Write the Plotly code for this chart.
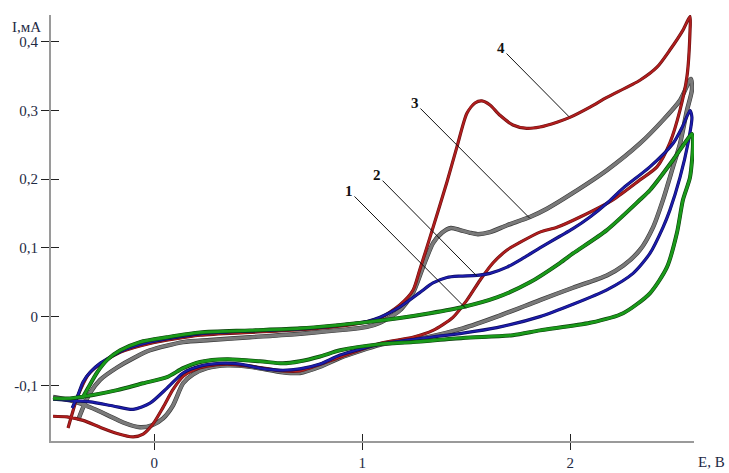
import plotly.graph_objects as go

# Curve 1 (green)
c1_E = [-0.347, -0.319, -0.275, -0.227, -0.164, -0.069, 0.061, 0.22, 0.46, 0.70, 1.022, 1.18, 1.326, 1.484, 1.647, 1.806, 1.950, 2.013, 2.176, 2.335, 2.383, 2.494, 2.561, 2.585,
        2.590, 2.576, 2.542, 2.513, 2.465, 2.383, 2.254, 2.095, 1.854, 1.724, 1.484, 1.243, 1.085, 0.893, 0.797, 0.70, 0.618, 0.508, 0.35, 0.22, 0.138, 0.061, -0.054, -0.179, -0.294, -0.405, -0.487]
c1_I = [-0.119, -0.104, -0.081, -0.063, -0.049, -0.037, -0.030, -0.023, -0.020, -0.017, -0.008, -0.002, 0.005, 0.014, 0.028, 0.050, 0.078, 0.092, 0.126, 0.170, 0.184, 0.228, 0.257, 0.266,
        0.252, 0.203, 0.170, 0.122, 0.072, 0.034, 0.005, -0.009, -0.020, -0.027, -0.031, -0.037, -0.040, -0.049, -0.058, -0.065, -0.068, -0.065, -0.062, -0.066, -0.075, -0.088, -0.097, -0.107, -0.114, -0.119, -0.119]

# Curve 2 (blue)
c2_E = [-0.395, -0.367, -0.343, -0.309, -0.261, -0.150, -0.021, 0.22, 0.46, 0.70, 1.022, 1.085, 1.18, 1.276, 1.340, 1.407, 1.470, 1.551, 1.614, 1.696, 1.773, 1.854, 1.950, 2.013, 2.095, 2.176, 2.254, 2.383, 2.494, 2.542, 2.576,
        2.585, 2.566, 2.528, 2.479, 2.446, 2.383, 2.302, 2.176, 2.013, 1.854, 1.647, 1.484, 1.326, 1.085, 0.893, 0.797, 0.70, 0.618, 0.508, 0.412, 0.316, 0.22, 0.138, 0.061, -0.021, -0.102, -0.198, -0.309, -0.405, -0.487]
c2_I = [-0.133, -0.114, -0.095, -0.081, -0.068, -0.049, -0.037, -0.025, -0.021, -0.018, -0.007, -0.001, 0.014, 0.035, 0.049, 0.057, 0.059, 0.060, 0.063, 0.072, 0.085, 0.100, 0.117, 0.128, 0.145, 0.165, 0.187, 0.218, 0.252, 0.278, 0.300,
        0.290, 0.252, 0.203, 0.155, 0.130, 0.092, 0.063, 0.039, 0.018, 0.000, -0.016, -0.024, -0.030, -0.040, -0.056, -0.069, -0.076, -0.078, -0.075, -0.069, -0.068, -0.072, -0.082, -0.104, -0.126, -0.135, -0.130, -0.124, -0.122, -0.120]

# Curve 3 (grey)
c3_E = [-0.367, -0.348, -0.309, -0.261, -0.179, -0.092, -0.021, 0.138, 0.268, 0.46, 0.70, 1.022, 1.085, 1.18, 1.243, 1.292, 1.340, 1.383, 1.426, 1.470, 1.518, 1.556, 1.614, 1.696, 1.806, 1.888, 2.013, 2.176, 2.335, 2.446, 2.528, 2.580,
        2.585, 2.561, 2.528, 2.494, 2.446, 2.398, 2.335, 2.254, 2.176, 2.013, 1.854, 1.647, 1.484, 1.326, 1.167, 1.085, 0.893, 0.797, 0.70, 0.618, 0.46, 0.35, 0.253, 0.186, 0.138, 0.090, 0.042, -0.011, -0.069, -0.150, -0.227, -0.309, -0.391, -0.487]
c3_I = [-0.151, -0.136, -0.111, -0.092, -0.074, -0.059, -0.049, -0.037, -0.034, -0.030, -0.025, -0.015, -0.009, 0.009, 0.034, 0.072, 0.107, 0.122, 0.129, 0.126, 0.122, 0.120, 0.123, 0.133, 0.145, 0.157, 0.180, 0.213, 0.252, 0.286, 0.315, 0.346,
        0.330, 0.300, 0.252, 0.218, 0.170, 0.130, 0.097, 0.074, 0.060, 0.042, 0.024, 0.000, -0.017, -0.029, -0.037, -0.041, -0.060, -0.073, -0.082, -0.081, -0.073, -0.071, -0.075, -0.084, -0.097, -0.129, -0.148, -0.158, -0.161, -0.154, -0.143, -0.132, -0.123, -0.117]

# Curve 4 (red)
c4_E = [-0.415, -0.395, -0.376, -0.352, -0.319, -0.261, -0.165, -0.021, 0.22, 0.46, 0.70, 0.94, 1.085, 1.18, 1.243, 1.276, 1.325, 1.407, 1.455, 1.503, 1.542, 1.575, 1.614, 1.662, 1.724, 1.791, 1.854, 1.936, 1.998, 2.095, 2.176, 2.335, 2.417, 2.479, 2.542, 2.576,
        2.576, 2.561, 2.528, 2.479, 2.417, 2.335, 2.205, 2.047, 1.936, 1.854, 1.758, 1.696, 1.628, 1.566, 1.503, 1.436, 1.340, 1.243, 1.083, 0.893, 0.70, 0.618, 0.46, 0.35, 0.253, 0.186, 0.138, 0.090, 0.042, -0.006, -0.054, -0.102, -0.179, -0.261, -0.343, -0.420, -0.487]
c4_I = [-0.162, -0.141, -0.122, -0.104, -0.085, -0.069, -0.052, -0.039, -0.027, -0.023, -0.019, -0.012, -0.002, 0.017, 0.038, 0.068, 0.115, 0.196, 0.247, 0.296, 0.311, 0.314, 0.308, 0.293, 0.279, 0.274, 0.276, 0.283, 0.290, 0.305, 0.319, 0.344, 0.363, 0.388, 0.417, 0.437,
        0.417, 0.349, 0.301, 0.253, 0.218, 0.199, 0.170, 0.145, 0.130, 0.123, 0.108, 0.097, 0.078, 0.053, 0.024, -0.001, -0.020, -0.030, -0.039, -0.059, -0.079, -0.079, -0.072, -0.069, -0.072, -0.078, -0.087, -0.106, -0.132, -0.156, -0.171, -0.175, -0.170, -0.161, -0.151, -0.146, -0.145]

# Curve labels and leader line ends
lab_text = ["1", "2", "3", "4"]
lab_E = [0.936, 1.071, 1.253, 1.667]
lab_I = [0.183, 0.206, 0.311, 0.391]
end_E = [1.498, 1.551, 1.806, 1.994]
end_I = [0.012, 0.059, 0.143, 0.291]

y_ticks = [-0.1, 0, 0.1, 0.2, 0.3, 0.4]
y_labels = ["-0,1", "0", "0,1", "0,2", "0,3", "0,4"]
x_ticks = [0, 1, 2]
x_labels = ["0", "1", "2"]

XR = [-0.497, 2.595]
YR = [-0.181, 0.439]

fig = go.Figure()
curves = [
    (c3_E, c3_I, "#7a7a7a", "#3a3a3a", 3.2),
    (c4_E, c4_I, "#b01e1e", "#6a1010", 2.0),
    (c2_E, c2_I, "#1c1caa", "#0c0c60", 2.0),
    (c1_E, c1_I, "#1a9a1a", "#0c400c", 2.8),
]
for ex, iy, col, dark, w in curves:
    fig.add_trace(go.Scatter(x=ex, y=iy, mode="lines", line=dict(color=dark, width=w + 1.2, shape="spline", smoothing=0.7),
                             hoverinfo="skip", showlegend=False))
    fig.add_trace(go.Scatter(x=ex, y=iy, mode="lines", line=dict(color=col, width=w, shape="spline", smoothing=0.7),
                             showlegend=False))

# overlay axes for inward halves of crossing ticks
fig.add_trace(go.Scatter(x=[None], y=[None], xaxis="x2", yaxis="y2", showlegend=False))

serif = "Liberation Serif, Times New Roman, serif"
fig.update_layout(
    width=729, height=473,
    margin=dict(l=51, r=35, t=15, b=32, autoexpand=False),
    plot_bgcolor="white", paper_bgcolor="white",
    xaxis=dict(range=XR, showgrid=False, zeroline=False, showline=True, linecolor="#9a9a9a", linewidth=2,
               ticks="outside", ticklen=7, tickcolor="#222", tickwidth=1.3, automargin=False,
               tickvals=x_ticks, ticktext=x_labels, tickfont=dict(family=serif, size=15, color="#1e2a44")),
    yaxis=dict(range=YR, showgrid=False, zeroline=False, showline=True, linecolor="#9a9a9a", linewidth=2,
               ticks="outside", ticklen=8, tickcolor="#222", tickwidth=1.3, automargin=False,
               tickvals=y_ticks, ticktext=y_labels, tickfont=dict(family=serif, size=15, color="#1e2a44")),
    xaxis2=dict(range=XR, overlaying="x", showgrid=False, zeroline=False, showline=False, ticks="inside", ticklen=7,
                tickcolor="#222", tickwidth=1.3, tickvals=x_ticks, showticklabels=False, side="bottom", automargin=False),
    yaxis2=dict(range=YR, overlaying="y", showgrid=False, zeroline=False, showline=False, ticks="inside", ticklen=8,
                tickcolor="#222", tickwidth=1.3, tickvals=y_ticks, showticklabels=False, side="left", automargin=False),
)

for t, lx, ly, ex, ey in zip(lab_text, lab_E, lab_I, end_E, end_I):
    fig.add_annotation(x=ex, y=ey, ax=lx, ay=ly, axref="x", ayref="y", xref="x", yref="y",
                       text="<b>" + t + "</b>", showarrow=True, arrowhead=0, arrowwidth=1, arrowcolor="#111",
                       font=dict(family=serif, size=15, color="#111"))

# axis titles placed in paper coordinates
W, H = 729, 473
L, R, T, B = 51, 35, 15, 32
pw, ph = W - L - R, H - T - B
fig.add_annotation(x=(711 - L) / pw, y=(H - B - 462) / ph, xref="paper", yref="paper", text="E, B", showarrow=False,
                   xanchor="center", yanchor="middle", font=dict(family=serif, size=15, color="#1e2a44"))
fig.add_annotation(x=(26 - L) / pw, y=(H - B - 27) / ph, xref="paper", yref="paper", text="I,мА", showarrow=False,
                   xanchor="center", yanchor="middle", font=dict(family=serif, size=15, color="#1e2a44"))

fig.write_html("out.html", config={"displayModeBar": False},
               post_script="document.body.style.margin='0';document.body.style.overflow='hidden';")
